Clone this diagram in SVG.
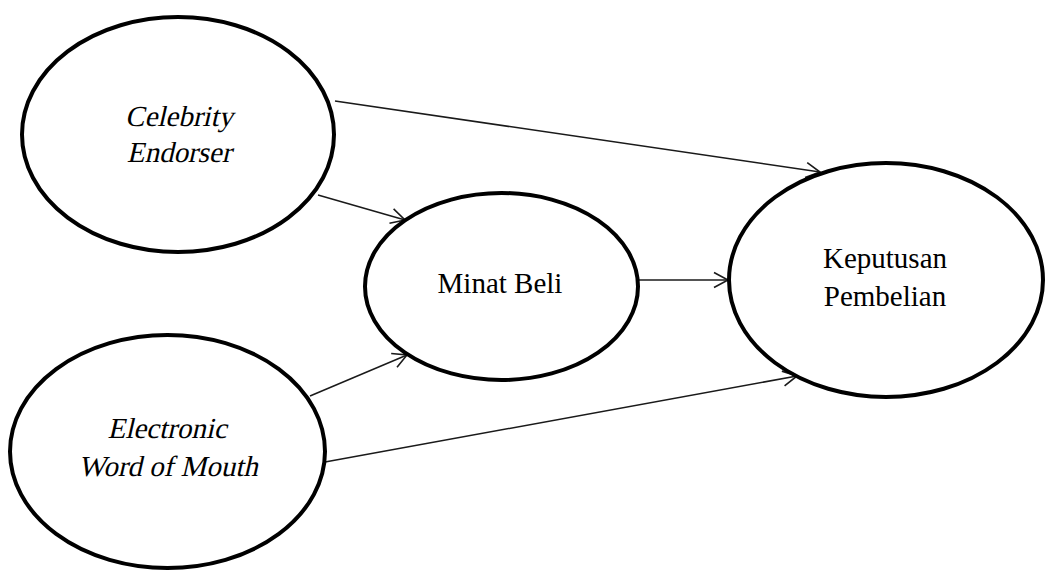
<svg xmlns="http://www.w3.org/2000/svg" width="1049" height="574" viewBox="0 0 1049 574">
<style>
.node ellipse{fill:#fff;stroke:#000;stroke-width:4}
.lbl{font-family:"Liberation Serif","Times New Roman",serif;font-size:29px;fill:#000;text-anchor:middle}
.it{font-size:29px}
.conn line{stroke:#1a1a1a;stroke-width:1.5;fill:none}
</style>
<defs>
<marker id="arr" markerUnits="userSpaceOnUse" markerWidth="18" markerHeight="20" refX="15" refY="9" orient="auto" viewBox="0 0 18 18">
<path d="M1,1.5 L15,9 L1,16.5" fill="none" stroke="#1a1a1a" stroke-width="1.6"/>
</marker>
</defs>
<rect width="1049" height="574" fill="#fff"/>
<g id="connectors" class="conn">
<line x1="335" y1="101" x2="820" y2="172" marker-end="url(#arr)"/>
<line x1="318" y1="195" x2="405" y2="220" marker-end="url(#arr)"/>
<line x1="310" y1="396" x2="407" y2="355" marker-end="url(#arr)"/>
<line x1="325" y1="462" x2="797" y2="376" marker-end="url(#arr)"/>
<line x1="638" y1="280" x2="728" y2="280" marker-end="url(#arr)"/>
</g>
<g id="celebrity-endorser" class="node">
<ellipse cx="178" cy="134.5" rx="156" ry="117.5"/>
<text class="lbl it" transform="translate(179,126) skewX(-13)">Celebrity</text>
<text class="lbl it" transform="translate(179,162) skewX(-13)">Endorser</text>
</g>
<g id="electronic-wom" class="node">
<ellipse cx="167.5" cy="451.5" rx="157.5" ry="116.5"/>
<text class="lbl it" transform="translate(167,438) skewX(-13)">Electronic</text>
<text class="lbl it" transform="translate(168,476) skewX(-13)">Word of Mouth</text>
</g>
<g id="minat-beli" class="node">
<ellipse cx="501.5" cy="286.5" rx="136.5" ry="93.5"/>
<text class="lbl" x="500" y="293">Minat Beli</text>
</g>
<g id="keputusan-pembelian" class="node">
<ellipse cx="886" cy="280" rx="157" ry="117"/>
<text class="lbl" x="885" y="268">Keputusan</text>
<text class="lbl" x="885" y="306">Pembelian</text>
</g>
</svg>
